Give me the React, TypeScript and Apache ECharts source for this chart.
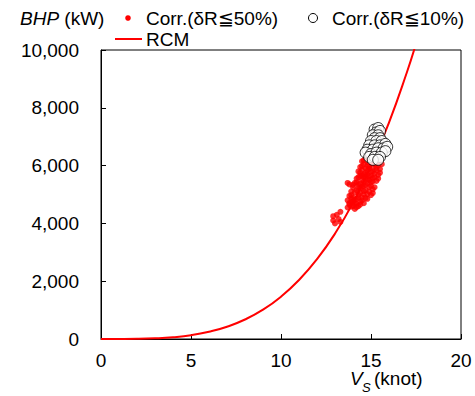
import React, { useEffect, useRef } from "react";
import * as echarts from "echarts";

// RCM curve: [Vs (knot), BHP (kW)]
const rcmCurve: [number, number][] = [
  [0, 0], [1, 1], [2, 5], [3, 22], [4, 60], [5, 130], [6, 250], [7, 425],
  [8, 675], [9, 1015], [10, 1465], [11, 2040], [12, 2760], [13, 3645],
  [14, 4710], [15, 5985], [16, 7490], [17, 9240], [17.5, 10220],
];

// Corr.(δR≦50%) points
const corr50: [number, number][] = [
  [14.5, 6150], [14.7, 6250], [14.9, 6200], [15.1, 6300], [15.3, 6250], [15.5, 6150],
  [14.6, 6050], [14.8, 6000], [15.0, 6100], [15.2, 6050], [15.4, 6000], [14.4, 5950], [15.6, 6050],
  [14.3, 5800], [14.5, 5850], [14.7, 5750], [14.9, 5900], [15.1, 5800], [15.3, 5850], [15.5, 5750],
  [14.4, 5650], [14.6, 5600], [14.8, 5700], [15.0, 5650], [15.2, 5600], [15.4, 5550], [14.2, 5550],
  [14.5, 5500], [14.9, 5500], [15.1, 5450],
  [14.1, 5400], [14.3, 5350], [14.6, 5300], [14.8, 5400], [15.0, 5300], [15.2, 5250], [14.0, 5250],
  [14.2, 5150], [14.4, 5200], [14.7, 5150], [14.9, 5100], [15.1, 5050], [13.9, 5100], [14.3, 5000],
  [14.6, 5000], [13.8, 5350], [13.7, 5400],
  [13.8, 4950], [14.0, 4900], [14.2, 4850], [14.5, 4900], [14.8, 4850], [13.7, 4800], [13.9, 4750],
  [14.1, 4700], [14.4, 4750], [13.8, 4650], [14.0, 4600], [14.3, 4600], [13.7, 4550], [14.1, 4500],
  [14.6, 4700],
  [14.6, 6180], [14.8, 6120], [15.0, 6230], [15.2, 6170], [15.4, 6130], [14.5, 5980], [14.7, 5900],
  [14.9, 5980], [15.1, 5930], [15.3, 5920], [15.5, 5880], [14.4, 5760], [14.6, 5700], [14.8, 5830],
  [15.0, 5780], [15.2, 5720], [15.4, 5680], [14.3, 5600], [14.5, 5650], [14.7, 5580], [14.9, 5620],
  [15.1, 5560], [15.3, 5470], [14.2, 5420], [14.4, 5380], [14.6, 5440], [14.8, 5520], [15.0, 5420],
  [14.0, 5330], [14.3, 5230], [14.5, 5280], [14.7, 5330], [14.9, 5260], [15.1, 5180], [13.9, 4980],
  [14.1, 5080], [14.4, 5080], [14.6, 5120], [14.8, 5010], [15.0, 4980], [13.9, 4860], [14.1, 4820],
  [14.3, 4900], [14.5, 4800], [14.7, 4880], [13.8, 4700], [14.0, 4750], [14.2, 4680], [13.9, 4580],
  [14.2, 4560], [14.4, 4650],
  [13.3, 4400], [13.1, 4300], [12.9, 4250], [13.2, 4150], [12.9, 4100], [13.0, 4000], [13.3, 4050],
];

// Corr.(δR≦10%) points
const corr10: [number, number][] = [
  [15.2, 7250], [15.4, 7300], [15.3, 7150], [15.5, 7200], [15.1, 7050], [15.4, 7050], [15.2, 6950],
  [15.5, 6950], [15.0, 6850], [15.3, 6850], [15.6, 6850], [14.9, 6700], [15.2, 6700], [15.5, 6700],
  [15.8, 6750], [14.8, 6550], [15.1, 6550], [15.4, 6600], [15.7, 6600], [15.9, 6650], [14.7, 6450],
  [15.0, 6400], [15.3, 6450], [15.6, 6450], [15.8, 6500], [14.9, 6300], [15.2, 6300], [15.5, 6300],
  [15.1, 6200], [15.4, 6200],
];

const xTicks = [0, 5, 10, 15, 20];
const yTicks = [0, 2000, 4000, 6000, 8000, 10000];

const FONT = "'Liberation Sans', Arial, sans-serif";
const FS = 19;

export default function App() {
  const ref = useRef<HTMLDivElement>(null);
  useEffect(() => {
    if (!ref.current) return;
    const chart = echarts.init(ref.current, null, { renderer: "svg" });
    chart.setOption({
      animation: false,
      backgroundColor: "#fff",
      textStyle: { fontFamily: FONT },
      grid: {
        left: 101, right: 14, top: 50, bottom: 57,
        show: true, borderColor: "#000", borderWidth: 1,
      },
      xAxis: {
        type: "value",
        min: xTicks[0], max: xTicks[xTicks.length - 1], interval: 5,
        axisLine: { show: true, onZero: false, lineStyle: { color: "#000", width: 1 } },
        axisTick: { show: true, inside: true, length: 5, lineStyle: { color: "#000" } },
        axisLabel: { color: "#000", fontSize: FS, fontFamily: FONT, margin: 12 },
        splitLine: { show: false },
      },
      yAxis: {
        type: "value",
        min: yTicks[0], max: yTicks[yTicks.length - 1], interval: 2000,
        axisLine: { show: true, lineStyle: { color: "#000", width: 1 } },
        axisTick: { show: true, inside: true, length: 5, lineStyle: { color: "#000" } },
        axisLabel: {
          color: "#000", fontSize: FS, fontFamily: FONT, margin: 22,
          formatter: (v: number) => v.toLocaleString("en-US"),
        },
        splitLine: { show: false },
      },
      graphic: [
        {
          type: "text", left: 20, top: 9,
          style: {
            text: "{i|BHP}{n| (kW)}",
            rich: {
              i: { fontStyle: "italic", fontSize: FS, fontFamily: FONT, fill: "#000" },
              n: { fontSize: FS, fontFamily: FONT, fill: "#000" },
            },
          },
        },
        { type: "circle", shape: { cx: 128, cy: 18, r: 2.8 }, style: { fill: "#ff0000" } },
        {
          type: "text", left: 146, top: 9,
          style: { text: "Corr.(δR≦50%)", fontSize: FS, fontFamily: FONT, fill: "#000" },
        },
        {
          type: "circle", shape: { cx: 313, cy: 18, r: 4.5 },
          style: { fill: "#fff", stroke: "#000", lineWidth: 1 },
        },
        {
          type: "text", left: 332, top: 9,
          style: { text: "Corr.(δR≦10%)", fontSize: FS, fontFamily: FONT, fill: "#000" },
        },
        {
          type: "line", shape: { x1: 115, y1: 39, x2: 142, y2: 39 },
          style: { stroke: "#ff0000", lineWidth: 2 },
        },
        {
          type: "text", left: 146, top: 30,
          style: { text: "RCM", fontSize: FS, fontFamily: FONT, fill: "#000" },
        },
        {
          type: "text", left: 350, top: 369,
          style: { text: "V", fontStyle: "italic", fontSize: FS, fontFamily: FONT, fill: "#000" },
        },
        {
          type: "text", left: 362, top: 381,
          style: { text: "S", fontStyle: "italic", fontSize: 13, fontFamily: FONT, fill: "#000" },
        },
        {
          type: "text", left: 374, top: 369,
          style: { text: "(knot)", fontSize: FS, fontFamily: FONT, fill: "#000" },
        },
      ],
      series: [
        {
          name: "RCM", type: "line", data: rcmCurve, smooth: true, showSymbol: false,
          clip: true, lineStyle: { color: "#ff0000", width: 2 }, z: 2,
        },
        {
          name: "Corr.(δR≦50%)", type: "scatter", data: corr50, symbolSize: 6,
          itemStyle: { color: "#ff0000" }, z: 3,
        },
        {
          name: "Corr.(δR≦10%)", type: "scatter", data: corr10, symbolSize: 11,
          itemStyle: { color: "#fff", borderColor: "#000", borderWidth: 1 }, z: 4,
        },
      ],
    });
    return () => chart.dispose();
  }, []);
  return <div ref={ref} style={{ width: 475, height: 396, position: "absolute", left: 0, top: 0 }} />;
}
